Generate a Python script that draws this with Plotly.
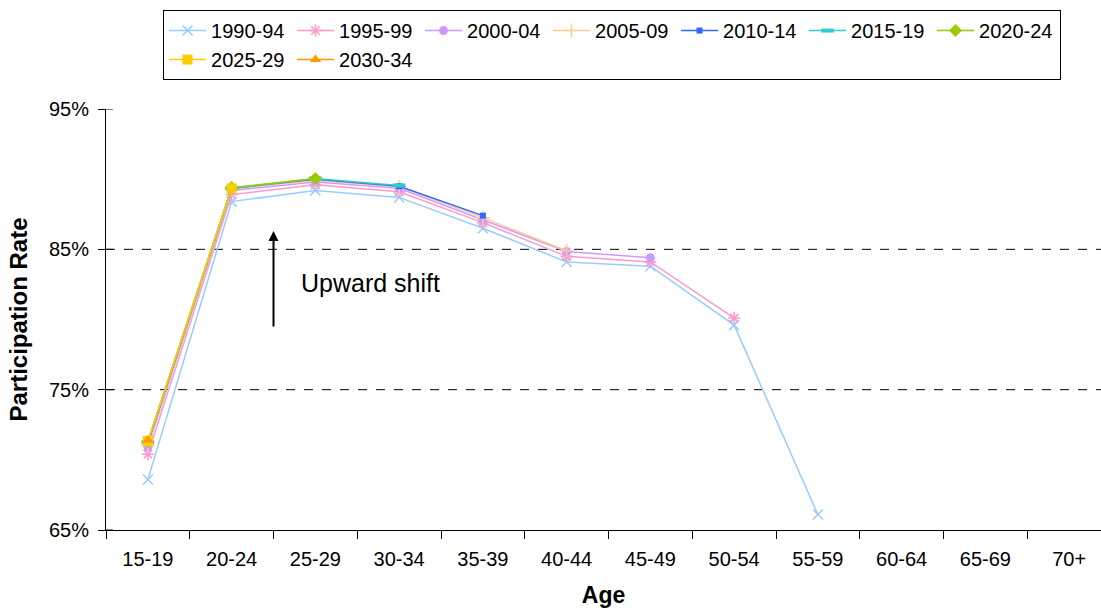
import plotly.graph_objects as go

# Age groups on the x axis
ages = ["15-19", "20-24", "25-29", "30-34", "35-39", "40-44",
        "45-49", "50-54", "55-59", "60-64", "65-69", "70+"]

# Participation rate (%) by age for each birth cohort
cohort_1990_94 = [68.6, 88.4, 89.2, 88.7, 86.5, 84.1, 83.8, 79.6, 66.1]
cohort_1995_99 = [70.4, 88.9, 89.6, 89.1, 86.9, 84.5, 84.1, 80.1]
cohort_2000_04 = [70.9, 89.2, 89.8, 89.35, 87.1, 84.85, 84.4]
cohort_2005_09 = [71.0, 89.3, 89.9, 89.45, 87.25, 84.9]
cohort_2010_14 = [71.2, 89.35, 90.0, 89.5, 87.4]
cohort_2015_19 = [71.25, 89.35, 90.05, 89.55]
cohort_2020_24 = [71.3, 89.4, 90.05]
cohort_2025_29 = [71.35, 89.35]
cohort_2030_34 = [71.4]

y_ticks = [65, 75, 85, 95]
dashed_levels = [75, 85]

FONT = "Liberation Sans, Arial, sans-serif"

series = [
    ("1990-94", cohort_1990_94, "#99CCFF", dict(symbol="x-thin-open", size=10, line=dict(width=1.5, color="#99CCFF"))),
    ("1995-99", cohort_1995_99, "#FF99CC", dict(symbol="asterisk-open", size=10, line=dict(width=1.5, color="#FF99CC"))),
    ("2000-04", cohort_2000_04, "#CC99FF", dict(symbol="circle", size=9, color="#CC99FF")),
    ("2005-09", cohort_2005_09, "#FFCC99", dict(symbol="cross-thin-open", size=10, line=dict(width=1.5, color="#FFCC99"))),
    ("2010-14", cohort_2010_14, "#3366FF", dict(symbol="square", size=6, color="#3366FF")),
    ("2015-19", cohort_2015_19, "#33CCCC", dict(symbol="line-ew-open", size=9, line=dict(width=4, color="#33CCCC"))),
    ("2020-24", cohort_2020_24, "#99CC00", dict(symbol="diamond", size=10, color="#99CC00")),
    ("2025-29", cohort_2025_29, "#FFCC00", dict(symbol="square", size=10, color="#FFCC00")),
    ("2030-34", cohort_2030_34, "#FF9900", dict(symbol="triangle-up", size=10, color="#FF9900")),
]

fig = go.Figure()
for name, vals, color, marker in series:
    fig.add_trace(go.Scatter(
        x=ages[:len(vals)], y=vals, name=name,
        mode="lines+markers",
        line=dict(color=color, width=1.5),
        marker=marker,
    ))

# Dashed reference levels
for lvl in dashed_levels:
    fig.add_shape(type="line", xref="paper", yref="y", x0=0, x1=1, y0=lvl, y1=lvl,
                  line=dict(color="black", width=1, dash="dash"), layer="below")

# Inner half of the y tick marks (ticks cross the axis)
for t in y_ticks:
    fig.add_shape(type="line", xref="paper", yref="y", x0=0, x1=7 / 995, y0=t, y1=t,
                  line=dict(color="black", width=1))

# Arrow and label
fig.add_annotation(x=1.5, y=86.3, ax=1.5, ay=79.4, xref="x", yref="y", axref="x", ayref="y",
                   text="", showarrow=True, arrowhead=2, arrowsize=1, arrowwidth=2,
                   arrowcolor="black")
fig.add_annotation(x=1.8, y=82.6, xref="x", yref="y", text="Upward shift",
                   showarrow=False, xanchor="left", yanchor="middle",
                   font=dict(family=FONT, size=25, color="black"))

fig.update_layout(
    width=1101, height=608,
    margin=dict(l=106, r=0, t=109, b=78),
    paper_bgcolor="white", plot_bgcolor="white",
    font=dict(family=FONT, size=20, color="black"),
    showlegend=True,
    legend=dict(
        orientation="h", x=0.0573, y=1.235, xanchor="left", yanchor="top",
        bordercolor="black", borderwidth=1, bgcolor="white",
        font=dict(family=FONT, size=20, color="black"),
        itemwidth=37,
        entrywidth=76, entrywidthmode="pixels",
        traceorder="normal",
    ),
    xaxis=dict(
        type="category", categoryorder="array", categoryarray=ages,
        range=[-0.5, 11.38],
        showline=True, linecolor="black", linewidth=1,
        ticks="outside", ticklen=8, tickcolor="black", tickson="boundaries",
        ticklabelstandoff=11,
        showgrid=False, zeroline=False,
        tickfont=dict(family=FONT, size=20, color="black"),
        title=dict(text="<b>Age</b>", font=dict(family=FONT, size=23, color="black"), standoff=18),
    ),
    yaxis=dict(
        range=[65, 95], tickvals=y_ticks, ticktext=[f"{v}%" for v in y_ticks],
        showline=True, linecolor="black", linewidth=1,
        ticks="outside", ticklen=7, tickcolor="black",
        ticklabelstandoff=5,
        showgrid=False, zeroline=False,
        tickfont=dict(family=FONT, size=20, color="black"),
        title=dict(text="<b>Participation Rate</b>", font=dict(family=FONT, size=24, color="black"), standoff=14),
    ),
)

fig.write_html("out.html")
